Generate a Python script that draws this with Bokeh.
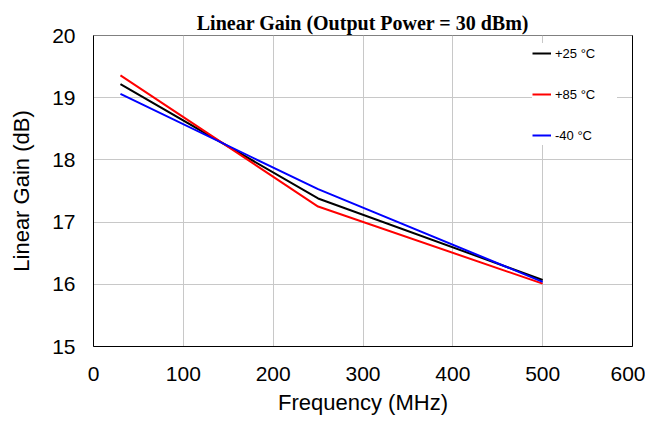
from bokeh.plotting import figure
from bokeh.models import Legend, LegendItem, LinearAxis, FixedTicker, Range1d
from bokeh.embed import file_html
from bokeh.resources import INLINE

# Data
freq_mhz = [30, 250, 500]
gain_25c = [19.22, 17.38, 16.07]
gain_85c = [19.36, 17.25, 16.01]
gain_m40c = [19.06, 17.53, 16.04]

series_labels = ["+25 \u00b0C", "+85 \u00b0C", "-40 \u00b0C"]
x_ticks = [0, 100, 200, 300, 400, 500, 600]
y_ticks = [15, 16, 17, 18, 19, 20]

p = figure(width=645, height=417, output_backend="svg", toolbar_location=None,
           x_range=Range1d(0, 600), y_range=Range1d(15, 20),
           min_border_left=93, min_border_right=13, min_border_top=35,
           min_border_bottom=69)

p.title.text = "Linear Gain (Output Power = 30 dBm)"
p.title.text_font = "Liberation Serif"
p.title.text_font_style = "bold"
p.title.text_font_size = "20px"
p.title.text_color = "black"
p.title.align = "center"
p.title.standoff = 4

p.outline_line_color = "#808080"
p.background_fill_color = "white"
p.border_fill_color = "white"

for ax, ticks in ((p.xaxis[0], x_ticks), (p.yaxis[0], y_ticks)):
    ax.ticker = FixedTicker(ticks=ticks)
    ax.axis_line_color = "black"
    ax.axis_line_width = 1
    ax.major_tick_line_color = None
    ax.minor_tick_line_color = None
    ax.major_tick_out = 0
    ax.major_tick_in = 0
    ax.major_label_text_font = "Liberation Sans"
    ax.major_label_text_font_size = "21px"
    ax.major_label_text_color = "black"
    ax.axis_label_text_font = "Liberation Sans"
    ax.axis_label_text_font_size = "22px"
    ax.axis_label_text_font_style = "normal"
    ax.axis_label_text_color = "black"

p.xaxis.axis_label = "Frequency (MHz)"
p.yaxis.axis_label = "Linear Gain (dB)"
p.xaxis.major_label_standoff = 20
p.yaxis.major_label_standoff = 18
p.xaxis.axis_label_standoff = 6
p.yaxis.axis_label_standoff = 15

right_axis = LinearAxis(ticker=FixedTicker(ticks=[]), axis_line_color="black",
                        major_tick_line_color=None, minor_tick_line_color=None,
                        major_label_text_font_size="0px", major_tick_out=0,
                        major_label_standoff=0)
p.add_layout(right_axis, "right")

p.xgrid.ticker = FixedTicker(ticks=x_ticks)
p.ygrid.ticker = FixedTicker(ticks=y_ticks)
p.grid.grid_line_color = "#c8c8c8"
p.grid.grid_line_width = 1

r1 = p.line(freq_mhz, gain_25c, line_color="black", line_width=2)
r2 = p.line(freq_mhz, gain_85c, line_color="#ff0000", line_width=2)
r3 = p.line(freq_mhz, gain_m40c, line_color="#0000ff", line_width=2)

legend = Legend(items=[LegendItem(label=series_labels[0], renderers=[r1]),
                       LegendItem(label=series_labels[1], renderers=[r2]),
                       LegendItem(label=series_labels[2], renderers=[r3])],
                location=(439, 201), margin=0, padding=7, spacing=21,
                glyph_width=19, glyph_height=20, label_height=20,
                label_width=62, label_standoff=4,
                label_text_font="Liberation Sans", label_text_font_size="13px",
                label_text_color="black",
                border_line_color=None, background_fill_color="white",
                background_fill_alpha=1.0)
p.add_layout(legend, "center")

open("out.html", "w").write(file_html(p, INLINE))
